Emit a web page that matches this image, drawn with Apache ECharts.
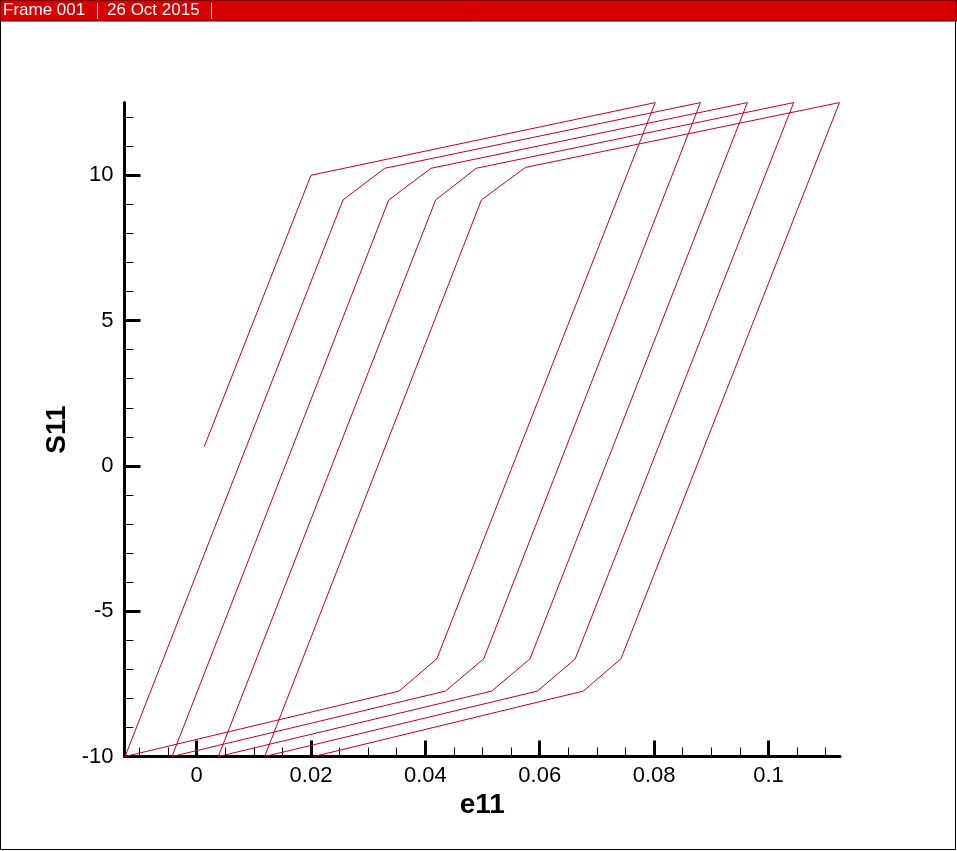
<!DOCTYPE html>
<html lang="en">
<head>
    <meta charset="utf-8">
    <title>Frame 001</title>
    <script type="text/javascript" src="https://cdn.jsdelivr.net/npm/echarts@6/dist/echarts.min.js"></script>
    <style type="text/css">
        html, body {
            margin: 0;
            padding: 0;
            background: #ffffff;
        }

        #main {
            width: 957px;
            height: 851px;
        }
    </style>
</head>
<body>
<div id="main"></div>
<script type="text/javascript">
    // path of the S11 / e11 curve, in the order it is drawn
    var e11 = [0.00134, 0.0200, 0.0802, 0.0420, 0.0354, -0.0125,
        0.0256, 0.0329, 0.0881, 0.0502, 0.0435, -0.0043,
        0.0336, 0.0410, 0.0963, 0.0583, 0.0516, 0.0038,
        0.0418, 0.0489, 0.1044, 0.0662, 0.0596, 0.0119,
        0.0498, 0.0575, 0.1124, 0.0742, 0.0676, 0.0205];
    var s11 = [0.66, 10.0, 12.5, -6.64, -7.75, -10,
        9.15, 10.24, 12.5, -6.64, -7.75, -10,
        9.15, 10.24, 12.5, -6.64, -7.75, -10,
        9.15, 10.24, 12.5, -6.64, -7.75, -10,
        9.15, 10.27, 12.5, -6.64, -7.75, -10];

    // axis ticks
    var xMajor = [0, 0.02, 0.04, 0.06, 0.08, 0.1];
    var xMinor = [-0.01, -0.005, 0.005, 0.01, 0.015, 0.025, 0.03, 0.035, 0.045, 0.05, 0.055,
        0.065, 0.07, 0.075, 0.085, 0.09, 0.095, 0.105, 0.11];
    var yMajor = [-10, -5, 0, 5, 10];
    var yMinor = [-9, -8, -7, -6, -4, -3, -2, -1, 1, 2, 3, 4, 6, 7, 8, 9, 11, 12];

    var headerTexts = ['Frame 001', '26 Oct 2015'];

    var pts = [];
    for (var i = 0; i < e11.length; i++) {
        pts.push([e11[i], s11[i]]);
    }

    var myChart = echarts.init(document.getElementById('main'));

    var font = "'Liberation Sans', Arial, Helvetica, sans-serif";
    var xMin = -0.0126, xMax = 0.1125, yMin = -10, yMax = 12.5;

    var option = {
        animation: false,
        backgroundColor: '#ffffff',
        grid: {
            left: 124.5,
            right: 117,
            top: 102.6,
            bottom: 94.5,
            containLabel: false,
            outerBoundsMode: 'none'
        },
        xAxis: [{
            type: 'value',
            min: xMin,
            max: xMax,
            position: 'bottom',
            name: 'e11',
            nameLocation: 'middle',
            nameGap: 30,
            nameTextStyle: {
                fontFamily: font,
                fontSize: 28,
                fontWeight: 'bold',
                color: '#000'
            },
            axisLine: {
                onZero: false,
                lineStyle: {color: '#000', width: 3}
            },
            axisTick: {
                inside: true,
                length: 16,
                customValues: xMajor,
                lineStyle: {color: '#000', width: 3}
            },
            axisLabel: {
                customValues: xMajor,
                margin: 8,
                fontFamily: font,
                fontSize: 22,
                color: '#000',
                formatter: function (v) {
                    return String(+v.toFixed(3));
                }
            },
            splitLine: {show: false}
        }, {
            type: 'value',
            min: xMin,
            max: xMax,
            position: 'bottom',
            axisLine: {show: false, onZero: false},
            axisTick: {
                inside: true,
                length: 9,
                customValues: xMinor,
                lineStyle: {color: '#000', width: 1}
            },
            axisLabel: {show: false},
            splitLine: {show: false}
        }],
        yAxis: [{
            type: 'value',
            min: yMin,
            max: yMax,
            position: 'left',
            name: 'S11',
            nameLocation: 'middle',
            nameRotate: 90,
            nameGap: 52,
            nameTextStyle: {
                fontFamily: font,
                fontSize: 28,
                fontWeight: 'bold',
                color: '#000'
            },
            axisLine: {
                onZero: false,
                lineStyle: {color: '#000', width: 3}
            },
            axisTick: {
                inside: true,
                length: 16,
                customValues: yMajor,
                lineStyle: {color: '#000', width: 3}
            },
            axisLabel: {
                customValues: yMajor,
                margin: 11,
                fontFamily: font,
                fontSize: 22,
                color: '#000'
            },
            splitLine: {show: false}
        }, {
            type: 'value',
            min: yMin,
            max: yMax,
            position: 'left',
            axisLine: {show: false, onZero: false},
            axisTick: {
                inside: true,
                length: 9,
                customValues: yMinor,
                lineStyle: {color: '#000', width: 1}
            },
            axisLabel: {show: false},
            splitLine: {show: false}
        }],
        series: [{
            type: 'line',
            xAxisIndex: 0,
            yAxisIndex: 0,
            data: pts,
            showSymbol: false,
            symbol: 'none',
            clip: false,
            lineStyle: {color: '#c40020', width: 1}
        }],
        graphic: [
            // frame outline
            {
                type: 'rect',
                shape: {x: 0.5, y: 0.5, width: 955, height: 849},
                style: {fill: 'none', stroke: '#000', lineWidth: 1},
                silent: true
            },
            // header bar
            {
                type: 'rect',
                shape: {x: 0, y: 0, width: 957, height: 21},
                style: {fill: '#d60000', stroke: '#400000', lineWidth: 1},
                silent: true
            },
            {
                type: 'text',
                x: 3, y: 2,
                style: {text: headerTexts[0], fill: '#fff', font: '17px ' + font}
            },
            {
                type: 'line',
                shape: {x1: 97.5, y1: 3, x2: 97.5, y2: 19},
                style: {stroke: '#fff', lineWidth: 1}
            },
            {
                type: 'text',
                x: 107, y: 2,
                style: {text: headerTexts[1], fill: '#fff', font: '17px ' + font}
            },
            {
                type: 'line',
                shape: {x1: 211.5, y1: 3, x2: 211.5, y2: 19},
                style: {stroke: '#fff', lineWidth: 1}
            }
        ]
    };

    myChart.setOption(option);
</script>
</body>
</html>
